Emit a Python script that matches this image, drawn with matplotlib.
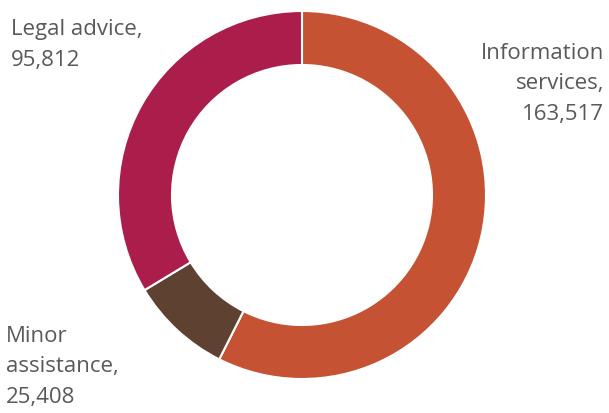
import matplotlib
matplotlib.use("Agg")
import matplotlib.pyplot as plt

categories = ["Information services", "Minor assistance", "Legal advice"]
values = [163517, 25408, 95812]
colors = ["#C45233", "#5F4132", "#AB1E4B"]

plt.rcParams['font.family'] = ['Open Sans', 'DejaVu Sans']

W, H = 609, 414
fig = plt.figure(figsize=(W / 100, H / 100), dpi=100)
ax = fig.add_axes([0, 0, 1, 1])

# donut starting at 12 o'clock, clockwise
ax.pie(values, colors=colors, startangle=90, counterclock=False,
       center=(302, H - 196), radius=184, frame=True,
       wedgeprops=dict(width=54, edgecolor='white', linewidth=1.5))
ax.set_xlim(0, W)
ax.set_ylim(0, H)
ax.set_aspect('equal')
ax.axis('off')

def fmt(v):
    return f"{v:,}"

txt = dict(color='#595959', fontsize=16, linespacing=1.6)
ax.text(604, H - 84, "Information\nservices,\n" + fmt(values[0]),
        ha='right', va='center', multialignment='right', **txt)
ax.text(6, H - 367, "Minor\nassistance,\n" + fmt(values[1]),
        ha='left', va='center', **txt)
ax.text(11, H - 45, "Legal advice,\n" + fmt(values[2]),
        ha='left', va='center', **txt)

fig.savefig("out.png", dpi=100)
